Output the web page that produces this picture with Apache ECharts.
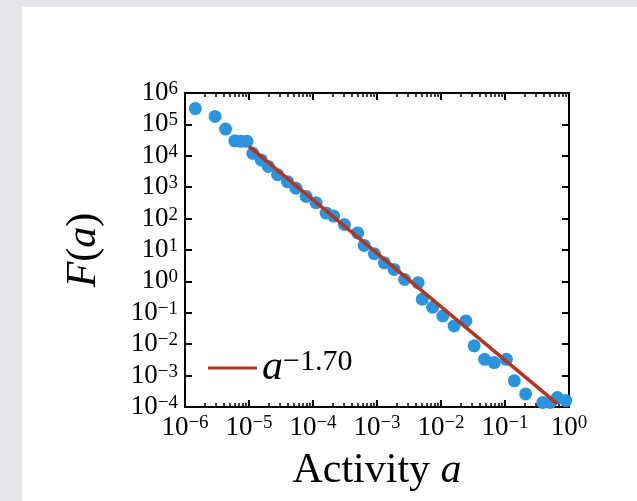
<!DOCTYPE html>
<html>
    <head>
        <meta charset="UTF-8" />
        <script src="https://cdn.jsdelivr.net/npm/echarts@6/dist/echarts.min.js"></script>
        <style>
            body { margin: 0; background: #e5e6e9; }
            #paper { position: absolute; left: 22px; top: 7px; right: 0; bottom: 0; background: #ffffff; }
            #main { position: absolute; left: 0; top: 0; width: 637px; height: 501px; }
        </style>
    </head>

    <body>
        <div id="paper"></div>
        <div id="main"></div>
        <script type="text/javascript">
            // values
            var activity = [1.45e-6, 2.95e-6, 4.3e-6, 6.0e-6, 7.5e-6, 9.3e-6, 1.15e-5, 1.55e-5, 2.0e-5, 2.8e-5,
                            4.0e-5, 5.4e-5, 7.8e-5, 1.12e-4, 1.6e-4, 2.1e-4, 3.1e-4, 5.0e-4, 6.3e-4, 9.1e-4,
                            1.3e-3, 1.85e-3, 2.7e-3, 4.4e-3, 5.1e-3, 7.4e-3, 1.07e-2, 1.6e-2, 2.45e-2, 3.3e-2,
                            4.8e-2, 6.8e-2, 0.105, 0.14, 0.21, 0.39, 0.51, 0.66, 0.89];
            var freq = [3.2e5, 1.8e5, 7.1e4, 3.0e4, 2.9e4, 2.9e4, 1.2e4, 7.4e3, 4.6e3, 2.5e3,
                        1.5e3, 930, 510, 320, 150, 120, 65, 35, 14, 7.6,
                        3.9, 2.4, 1.15, 0.91, 0.27, 0.15, 0.079, 0.038, 0.055, 8.9e-3,
                        3.3e-3, 2.6e-3, 3.3e-3, 6.8e-4, 2.6e-4, 1.4e-4, 1.4e-4, 2.0e-4, 1.6e-4];
            var fitX = [1.0e-5, 0.66];
            var fitY = [2.0e4, 1.26e-4];
            var fitName = '−1.70';

            var xExponents = [-6, -5, -4, -3, -2, -1, 0];
            var yExponents = [-4, -3, -2, -1, 0, 1, 2, 3, 4, 5, 6];
            var minorSteps = [2, 3, 4, 5, 6, 7, 8, 9];

            var serif = '"Liberation Serif", "DejaVu Serif", serif';
            var blue = '#2a94df';
            var red = '#b4341f';

            var gridTop = 93, gridBottom = 94, plotHeight = 501 - gridTop - gridBottom;

            function powLabel(value) {
                var e = Math.round(Math.log10(value));
                return '{b|10}{s|' + (e < 0 ? '−' + (-e) : e) + '}';
            }
            var labelRich = {
                b: { fontFamily: serif, fontSize: 27, lineHeight: 27, color: '#000' },
                s: { fontFamily: serif, fontSize: 19, lineHeight: 2, verticalAlign: 'top', color: '#000' }
            };

            // minor tick spots at 2..9 of each decade
            var xMinor = [];
            for (var i = 0; i < xExponents.length - 1; i++) {
                for (var j = 0; j < minorSteps.length; j++) {
                    xMinor.push(minorSteps[j] * Math.pow(10, xExponents[i]));
                }
            }

            var pts = activity.map(function (a, k) { return [a, freq[k]]; });
            var fit = fitX.map(function (a, k) { return [a, fitY[k]]; });

            var chartDom = document.getElementById('main');
            var myChart = echarts.init(chartDom);

            var xBase = {
                type: 'log',
                logBase: 10,
                min: Math.pow(10, xExponents[0]),
                max: Math.pow(10, xExponents[xExponents.length - 1]),
                interval: 1,
                splitLine: { show: false },
                axisLine: { show: true, onZero: false, lineStyle: { color: '#000', width: 2 } },
                axisTick: { show: true, inside: true, length: 7, lineStyle: { color: '#000', width: 2 } },
                axisLabel: { show: false }
            };
            var yBase = {
                type: 'log',
                logBase: 10,
                min: Math.pow(10, yExponents[0]),
                max: Math.pow(10, yExponents[yExponents.length - 1]),
                interval: 1,
                splitLine: { show: false },
                axisLine: { show: true, onZero: false, lineStyle: { color: '#000', width: 2 } },
                axisTick: { show: true, inside: true, length: 7, lineStyle: { color: '#000', width: 2 } },
                axisLabel: { show: false }
            };
            // minor ticks: the axis is put on the opposite edge of the box, so its
            // outward ticks point into the plot
            function minorAxis(pos) {
                return {
                    type: 'log',
                    logBase: 10,
                    position: pos,
                    offset: -plotHeight,
                    min: Math.pow(10, xExponents[0]),
                    max: Math.pow(10, xExponents[xExponents.length - 1]),
                    splitLine: { show: false },
                    axisLine: { show: true, onZero: false, lineStyle: { color: '#000', width: 2 } },
                    axisTick: { show: true, length: 4, customValues: xMinor,
                                lineStyle: { color: '#000', width: 1.5 } },
                    axisLabel: { show: true, formatter: function () { return ''; } }
                };
            }

            var option = {
                animation: false,
                grid: { left: 185, right: 68, top: gridTop, bottom: gridBottom },
                legend: {
                    data: ['fit'],
                    left: 203,
                    top: 342,
                    icon: 'rect',
                    itemWidth: 49,
                    itemHeight: 3,
                    formatter: function () { return '{a|a}{s|' + fitName + '}'; },
                    textStyle: {
                        rich: {
                            a: { fontFamily: serif, fontStyle: 'italic', fontSize: 42, lineHeight: 42, color: '#000' },
                            s: { fontFamily: serif, fontSize: 30, lineHeight: 20, verticalAlign: 'top', color: '#000' }
                        }
                    }
                },
                xAxis: [
                    minorAxis('top'),
                    Object.assign({}, xBase, {
                        position: 'bottom',
                        name: '{n|Activity }{i|a}',
                        nameLocation: 'middle',
                        nameGap: 43,
                        nameTextStyle: {
                            verticalAlign: 'top',
                            rich: {
                                n: { fontFamily: serif, fontSize: 42, color: '#000' },
                                i: { fontFamily: serif, fontSize: 42, fontStyle: 'italic', color: '#000' }
                            }
                        },
                        axisLabel: { show: true, margin: 7, formatter: powLabel, rich: labelRich,
                                     showMinLabel: true, showMaxLabel: true, hideOverlap: false }
                    }),
                    Object.assign({}, xBase, { position: 'top' }),
                    minorAxis('bottom')
                ],
                yAxis: [
                    Object.assign({}, yBase, {
                        position: 'left',
                        name: '{i|F}{n|(}{i|a}{n|)}',
                        nameLocation: 'middle',
                        nameGap: 80,
                        nameTextStyle: {
                            rich: {
                                n: { fontFamily: serif, fontSize: 42, color: '#000' },
                                i: { fontFamily: serif, fontSize: 42, fontStyle: 'italic', color: '#000' }
                            }
                        },
                        axisLabel: { show: true, margin: 7, formatter: powLabel, rich: labelRich,
                                     showMinLabel: true, showMaxLabel: true, hideOverlap: false }
                    }),
                    Object.assign({}, yBase, { position: 'right' })
                ],
                series: [
                    {
                        name: 'data',
                        type: 'scatter',
                        xAxisIndex: 1,
                        yAxisIndex: 0,
                        symbol: 'circle',
                        symbolSize: 13,
                        itemStyle: { color: blue, opacity: 1 },
                        data: pts,
                        z: 2
                    },
                    {
                        name: 'fit',
                        type: 'line',
                        xAxisIndex: 1,
                        yAxisIndex: 0,
                        symbol: 'none',
                        lineStyle: { color: red, width: 3.5 },
                        itemStyle: { color: red },
                        data: fit,
                        z: 3
                    }
                ]
            };

            option && myChart.setOption(option);
        </script>
    </body>
</html>
